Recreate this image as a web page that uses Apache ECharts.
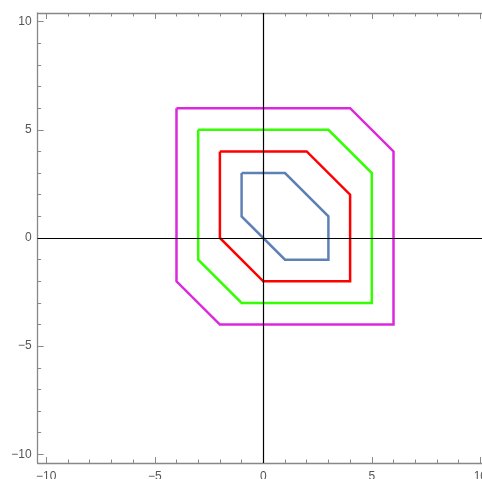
<!DOCTYPE html>
<html>
<head>
<meta charset="utf-8">
<script src="https://cdn.jsdelivr.net/npm/echarts@6/dist/echarts.min.js"></script>
<style>html,body{margin:0;padding:0;background:#fff}#c{width:482px;height:479px}</style>
</head>
<body>
<div id="c"></div>
<script>
// Data
const curveBlue    = [[-1,3],[1,3],[3,1],[3,-1],[1,-1],[-1,1],[-1,3]];
const curveRed     = [[-2,4],[2,4],[4,2],[4,-2],[0,-2],[-2,0],[-2,4]];
const curveGreen   = [[-3,5],[3,5],[5,3],[5,-3],[-1,-3],[-3,-1],[-3,5]];
const curveMagenta = [[-4,6],[4,6],[6,4],[6,-4],[-2,-4],[-4,-2],[-4,6]];
const majorTicks = [-10,-5,0,5,10];
const minorTicks = [-9,-8,-7,-6,-4,-3,-2,-1,1,2,3,4,6,7,8,9];
const axisMin = -10.4, axisMax = 10.4;

const frameColor = '#888888';
const labelColor = '#555';
const fmt = v => (v < 0 ? '\u2212' + Math.abs(v) : String(v));

function mkAxis(kind, position, ticks, len, withLabel, withLine) {
  return {
    type: 'value', position: position, min: axisMin, max: axisMax,
    axisLine: { show: withLine, onZero: false, lineStyle: { color: frameColor, width: 1.3 } },
    axisTick: { show: true, inside: true, length: len, customValues: ticks, lineStyle: { color: frameColor, width: 1 } },
    axisLabel: withLabel ? { show: true, customValues: ticks, formatter: fmt, color: labelColor,
      fontFamily: 'Liberation Sans, Arial, sans-serif', fontSize: 12, margin: kind === 'x' ? 8 : 6 } : { show: false },
    splitLine: { show: false }
  };
}

const chart = echarts.init(document.getElementById('c'), null, { renderer: 'canvas' });
const lineSeries = (data, color) => ({
  type: 'line', data: data, xAxisIndex: 0, yAxisIndex: 0,
  showSymbol: false, symbol: 'none', animation: false, z: 3,
  lineStyle: { color: color, width: 2.5, join: 'miter', cap: 'butt' }
});
chart.setOption({
  animation: false,
  grid: { left: 37.6, top: 13, width: 451.4, height: 450, containLabel: false, outerBoundsMode: 'none' },
  xAxis: [
    mkAxis('x', 'bottom', majorTicks, 6, true, true),
    mkAxis('x', 'bottom', minorTicks, 3.5, false, false),
    mkAxis('x', 'top', majorTicks, 6, false, true),
    mkAxis('x', 'top', minorTicks, 3.5, false, false)
  ],
  yAxis: [
    mkAxis('y', 'left', majorTicks, 6, true, true),
    mkAxis('y', 'left', minorTicks, 3.5, false, false),
    mkAxis('y', 'right', majorTicks, 6, false, true),
    mkAxis('y', 'right', minorTicks, 3.5, false, false)
  ],
  series: [
    {
      type: 'line', data: [], xAxisIndex: 0, yAxisIndex: 0, z: 2,
      markLine: {
        silent: true, symbol: 'none', animation: false,
        label: { show: false },
        lineStyle: { color: '#000', width: 1.2, type: 'solid' },
        data: [{ xAxis: 0 }, { yAxis: 0 }]
      }
    },
    lineSeries(curveMagenta, '#DC28DC'),
    lineSeries(curveGreen, '#33FF00'),
    lineSeries(curveRed, '#FF0000'),
    lineSeries(curveBlue, '#5E81B5')
  ]
});
</script>
</body>
</html>
